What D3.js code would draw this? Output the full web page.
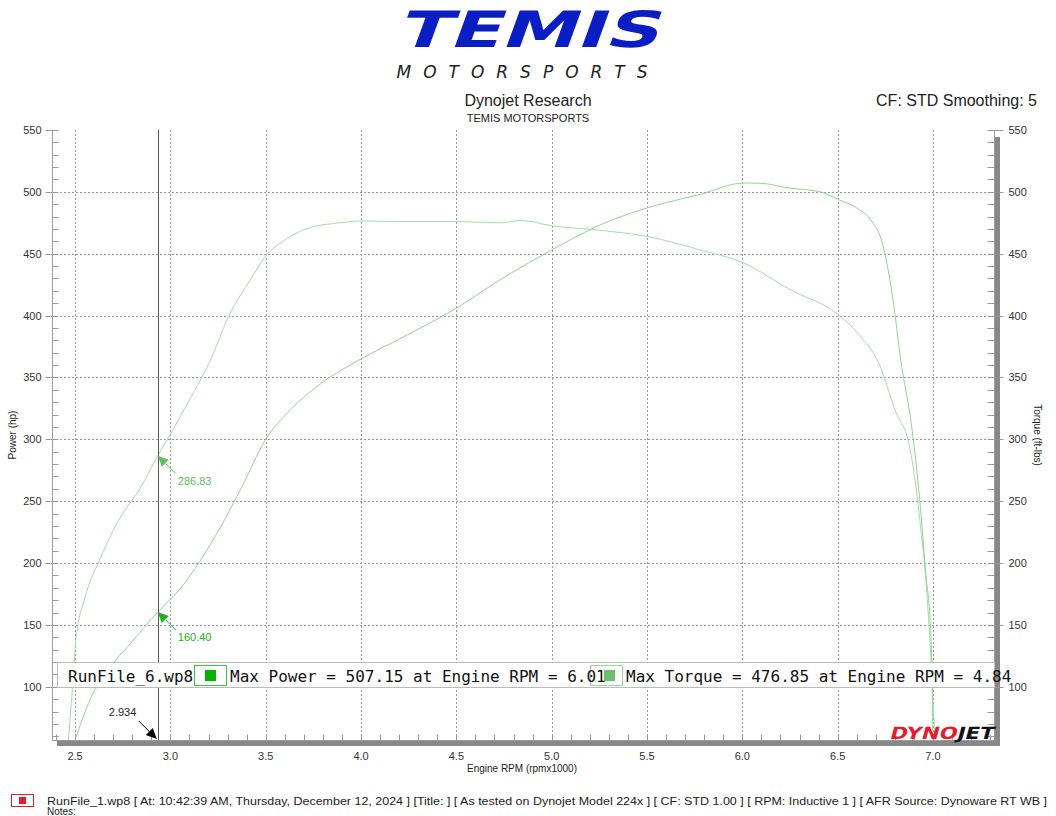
<!DOCTYPE html>
<html lang="en">
<head>
<meta charset="UTF-8">
<title>Dyno chart</title>
<style>
  body { margin: 0; background: #fff; }
  svg { display: block; font-family: "Liberation Sans", Arial, sans-serif; }
  .tick-label { font-size: 11px; fill: #333; }
  .grid { stroke: #999; stroke-dasharray: 2,2; stroke-width: 1; }
</style>
</head>
<body>
<script src="https://d3js.org/d3.v7.min.js"></script>
<script>
const width = 1056, height = 816;

// RPM (x1000) and values
const torqueRpm = [2.465, 2.486, 2.505, 2.55, 2.63, 2.73, 2.84, 2.934, 3.0, 3.1, 3.21, 3.31, 3.42, 3.5, 3.6, 3.73, 3.89, 4.0, 4.2, 4.5, 4.73, 4.84, 5.0, 5.25, 5.5, 5.78, 6.0, 6.25, 6.5, 6.61, 6.72, 6.8, 6.88, 6.93, 6.97, 6.995, 7.01];
const torqueVals = [57, 98, 139, 171, 203, 235, 260, 286.83, 304, 332, 364, 401, 429, 448, 461, 471, 475, 476.5, 476, 476, 475, 476.85, 472.6, 469, 464, 453, 443, 421, 401, 385, 360, 324, 292, 236, 171, 106, 57];

const powerRpm = [2.5, 2.58, 2.68, 2.79, 2.934, 3.05, 3.21, 3.37, 3.5, 3.63, 3.78, 4.0, 4.2, 4.5, 4.73, 5.0, 5.25, 5.5, 5.78, 6.01, 6.09, 6.25, 6.41, 6.5, 6.6, 6.68, 6.73, 6.79, 6.83, 6.89, 6.93, 6.96, 6.99, 7.0];
const powerVals = [57, 90, 115, 135, 160.4, 179, 215, 260, 300, 324, 344, 365, 381, 406, 429, 453, 473, 487, 498, 507.15, 507, 503, 500, 494, 487, 476, 461, 413, 365, 308, 252, 195, 139, 57];

const yTicks = [100, 150, 200, 250, 300, 350, 400, 450, 500, 550];
const xTicks = [2.5, 3.0, 3.5, 4.0, 4.5, 5.0, 5.5, 6.0, 6.5, 7.0];

const cursorRpm = 2.934;
const cursorTorque = 286.83;
const cursorPower = 160.40;

const footerText = "RunFile_1.wp8 [ At: 10:42:39 AM, Thursday, December 12, 2024 ] [Title: ] [ As tested on Dynojet Model 224x ] [ CF: STD 1.00 ] [ RPM: Inductive 1 ] [ AFR Source: Dynoware RT WB ]";

const pL = 52, pR = 994, pT = 130, pB = 740;

const svg = d3.select("body").append("svg")
  .attr("width", width)
  .attr("height", height);

const x = d3.scaleLinear().domain([2.379, 7.32]).range([pL, pR]);
const y = d3.scaleLinear().domain([57, 550]).range([pB, pT]);

// logo
svg.append("text")
  .attr("x", 527).attr("y", 47)
  .attr("text-anchor", "middle")
  .attr("transform", "translate(527,47) skewX(-20) translate(-527,-47)")
  .style("font-family", "'DejaVu Sans', sans-serif")
  .style("font-weight", "bold")
  .style("font-size", "50px")
  .attr("fill", "#0a1ec4")
  .attr("textLength", 262)
  .attr("lengthAdjust", "spacingAndGlyphs")
  .text("TEMIS");

svg.append("text")
  .attr("x", 528).attr("y", 78)
  .attr("text-anchor", "middle")
  .style("font-family", "'DejaVu Sans', sans-serif")
  .style("font-style", "italic")
  .style("font-size", "17px")
  .style("letter-spacing", "12px")
  .attr("fill", "#222")
  .text("MOTORSPORTS");

// titles
svg.append("text").attr("x", 528).attr("y", 106).attr("text-anchor", "middle")
  .style("font-size", "16px").attr("fill", "#222").text("Dynojet Research");
svg.append("text").attr("x", 528).attr("y", 122).attr("text-anchor", "middle")
  .style("font-size", "11px").attr("fill", "#222").text("TEMIS MOTORSPORTS");
svg.append("text").attr("x", 1037).attr("y", 106).attr("text-anchor", "end")
  .style("font-size", "16px").attr("fill", "#222").text("CF: STD Smoothing: 5");

// gridlines
svg.append("g").selectAll("line").data(yTicks.filter(d => d < 550)).join("line")
  .attr("class", "grid")
  .attr("x1", pL).attr("x2", pR)
  .attr("y1", d => Math.round(y(d)) + 0.5).attr("y2", d => Math.round(y(d)) + 0.5);
svg.append("g").selectAll("line").data(xTicks).join("line")
  .attr("class", "grid")
  .attr("x1", d => Math.round(x(d)) + 0.5).attr("x2", d => Math.round(x(d)) + 0.5)
  .attr("y1", pT).attr("y2", pB);

// shadows of the frame
svg.append("rect").attr("x", pR).attr("y", 137).attr("width", 6).attr("height", pB - 137 + 6).attr("fill", "#888");
svg.append("rect").attr("x", 57).attr("y", pB).attr("width", pR - 57 + 6).attr("height", 6).attr("fill", "#888");

// axes
const yMinor = d3.range(60, 551, 10);
const xMinor = d3.range(24, 74).map(d => d / 10);

const leftAxis = svg.append("g").attr("transform", `translate(${pL + 0.5},0)`);
leftAxis.append("line").attr("y1", pT).attr("y2", pB).attr("stroke", "#999");
leftAxis.selectAll(".mn").data(yMinor).join("line").attr("class", "mn")
  .attr("x1", 0).attr("x2", 6).attr("y1", d => Math.round(y(d)) + 0.5).attr("y2", d => Math.round(y(d)) + 0.5).attr("stroke", "#999");
leftAxis.selectAll(".mj").data(yTicks).join("line").attr("class", "mj")
  .attr("x1", -7).attr("x2", 0).attr("y1", d => Math.round(y(d)) + 0.5).attr("y2", d => Math.round(y(d)) + 0.5).attr("stroke", "#999");
leftAxis.selectAll("text").data(yTicks).join("text").attr("class", "tick-label")
  .attr("x", -11).attr("y", d => y(d) + 4).attr("text-anchor", "end").text(d => d);

const rightAxis = svg.append("g").attr("transform", `translate(${pR + 0.5},0)`);
rightAxis.append("line").attr("y1", pT).attr("y2", pB).attr("stroke", "#999");
rightAxis.selectAll(".mn").data(yMinor).join("line").attr("class", "mn")
  .attr("x1", -7).attr("x2", 0).attr("y1", d => Math.round(y(d)) + 0.5).attr("y2", d => Math.round(y(d)) + 0.5).attr("stroke", "#999");
rightAxis.selectAll(".mj").data(yTicks).join("line").attr("class", "mj")
  .attr("x1", 0).attr("x2", 9).attr("y1", d => Math.round(y(d)) + 0.5).attr("y2", d => Math.round(y(d)) + 0.5).attr("stroke", "#999");
rightAxis.selectAll("text").data(yTicks).join("text").attr("class", "tick-label")
  .attr("x", 14).attr("y", d => y(d) + 4).text(d => d);

const bottomAxis = svg.append("g").attr("transform", `translate(0,${pB + 0.5})`);
bottomAxis.append("line").attr("x1", pL).attr("x2", pR).attr("stroke", "#999");
bottomAxis.selectAll(".mn").data(xMinor).join("line").attr("class", "mn")
  .attr("x1", d => Math.round(x(d)) + 0.5).attr("x2", d => Math.round(x(d)) + 0.5).attr("y1", -6).attr("y2", 0).attr("stroke", "#999");
bottomAxis.selectAll("text").data(xTicks).join("text").attr("class", "tick-label")
  .attr("x", d => x(d)).attr("y", 19).attr("text-anchor", "middle").text(d => d.toFixed(1));

// axis titles
svg.append("text").attr("transform", `translate(16,${(pT + pB) / 2}) rotate(-90)`)
  .attr("text-anchor", "middle").style("font-size", "10px").attr("fill", "#222").text("Power (hp)");
svg.append("text").attr("transform", `translate(1034,${(pT + pB) / 2}) rotate(90)`)
  .attr("text-anchor", "middle").style("font-size", "10px").attr("fill", "#222").text("Torque (ft-lbs)");
svg.append("text").attr("x", 522).attr("y", 772).attr("text-anchor", "middle")
  .style("font-size", "10px").attr("fill", "#222").text("Engine RPM (rpmx1000)");

// curves
const line = d3.line().x(d => x(d[0])).y(d => y(d[1])).curve(d3.curveMonotoneX);
svg.append("clipPath").attr("id", "plot").append("rect")
  .attr("x", pL).attr("y", pT).attr("width", pR - pL).attr("height", pB - pT);

svg.append("path").datum(d3.zip(torqueRpm, torqueVals))
  .attr("clip-path", "url(#plot)")
  .attr("d", line).attr("fill", "none").attr("stroke", "#a4dea4").attr("stroke-width", 1);
svg.append("path").datum(d3.zip(powerRpm, powerVals))
  .attr("clip-path", "url(#plot)")
  .attr("d", line).attr("fill", "none").attr("stroke", "#8fd68f").attr("stroke-width", 1);

// cursor line
svg.append("line")
  .attr("x1", Math.round(x(cursorRpm)) + 0.5).attr("x2", Math.round(x(cursorRpm)) + 0.5)
  .attr("y1", pT).attr("y2", pB).attr("stroke", "#555");

// markers
function marker(val, color) {
  const cx = x(cursorRpm), cy = y(val);
  svg.append("line").attr("x1", cx + 8).attr("y1", cy + 8).attr("x2", cx + 18).attr("y2", cy + 18)
    .attr("stroke", color);
  svg.append("path")
    .attr("d", `M${cx},${cy} L${cx + 11},${cy + 4} L${cx + 4},${cy + 11} Z`)
    .attr("fill", color);
  svg.append("text").attr("x", cx + 20).attr("y", cy + 29)
    .style("font-size", "11px").attr("fill", color).text(val.toFixed(2));
}
marker(cursorTorque, "#66bb66");
marker(cursorPower, "#22b022");

// rpm marker on the axis
{
  const cx = x(cursorRpm) - 1, cy = pB - 1;
  svg.append("line").attr("x1", cx - 18).attr("y1", cy - 18).attr("x2", cx - 6).attr("y2", cy - 6).attr("stroke", "#000");
  svg.append("path").attr("d", `M${cx},${cy} L${cx - 11},${cy - 4} L${cx - 4},${cy - 11} Z`).attr("fill", "#000");
  svg.append("text").attr("x", cx - 48).attr("y", cy - 23)
    .style("font-size", "11px").attr("fill", "#222").text(cursorRpm.toFixed(3));
}

// legend box
const lg = svg.append("g");
lg.append("rect").attr("x", 57.5).attr("y", 662.5).attr("width", pR - 57).attr("height", 25)
  .attr("fill", "#fff").attr("stroke", "#bbb");
const mono = "'DejaVu Sans Mono', monospace";
lg.append("rect").attr("x", 194.5).attr("y", 665.5).attr("width", 32).attr("height", 20).attr("fill", "#fff").attr("stroke", "#3cc43c");
lg.append("rect").attr("x", 205).attr("y", 670).attr("width", 11).attr("height", 11).attr("fill", "#00b400");
lg.append("rect").attr("x", 590.5).attr("y", 665.5).attr("width", 32).attr("height", 20).attr("fill", "#fff").attr("stroke", "#9ad89a");
lg.append("rect").attr("x", 604).attr("y", 670).attr("width", 11).attr("height", 11).attr("fill", "#6cc06c");
lg.append("text").attr("x", 68).attr("y", 682).style("font-family", mono).style("font-size", "16px").attr("fill", "#111")
  .text("RunFile_6.wp8");
lg.append("text").attr("x", 230).attr("y", 682).style("font-family", mono).style("font-size", "16px").attr("fill", "#111")
  .text("Max Power = 507.15 at Engine RPM = 6.01");
lg.append("text").attr("x", 626).attr("y", 682).style("font-family", mono).style("font-size", "16px").attr("fill", "#111")
  .text("Max Torque = 476.85 at Engine RPM = 4.84");

// dynojet logo
const dj = svg.append("text").attr("x", 889).attr("y", 739)
  .attr("transform", "translate(889,739) skewX(-15) translate(-889,-739)")
  .style("font-family", "'DejaVu Sans', sans-serif").style("font-weight", "bold").style("font-size", "17px")
  .attr("textLength", 104).attr("lengthAdjust", "spacingAndGlyphs");
dj.append("tspan").attr("fill", "#e8192c").text("DYNO");
dj.append("tspan").attr("fill", "#111").text("JET");

// footer
svg.append("rect").attr("x", 11.5).attr("y", 794.5).attr("width", 22).attr("height", 12).attr("fill", "#fff").attr("stroke", "#e8192c");
svg.append("rect").attr("x", 19).attr("y", 797).attr("width", 7).attr("height", 7).attr("fill", "#e8192c");
svg.append("text").attr("x", 47).attr("y", 805).style("font-size", "11px").attr("fill", "#222")
  .attr("textLength", 1000).attr("lengthAdjust", "spacingAndGlyphs").text(footerText);
svg.append("text").attr("x", 47).attr("y", 815).style("font-size", "10px").attr("fill", "#222").text("Notes:");
</script>
</body>
</html>
